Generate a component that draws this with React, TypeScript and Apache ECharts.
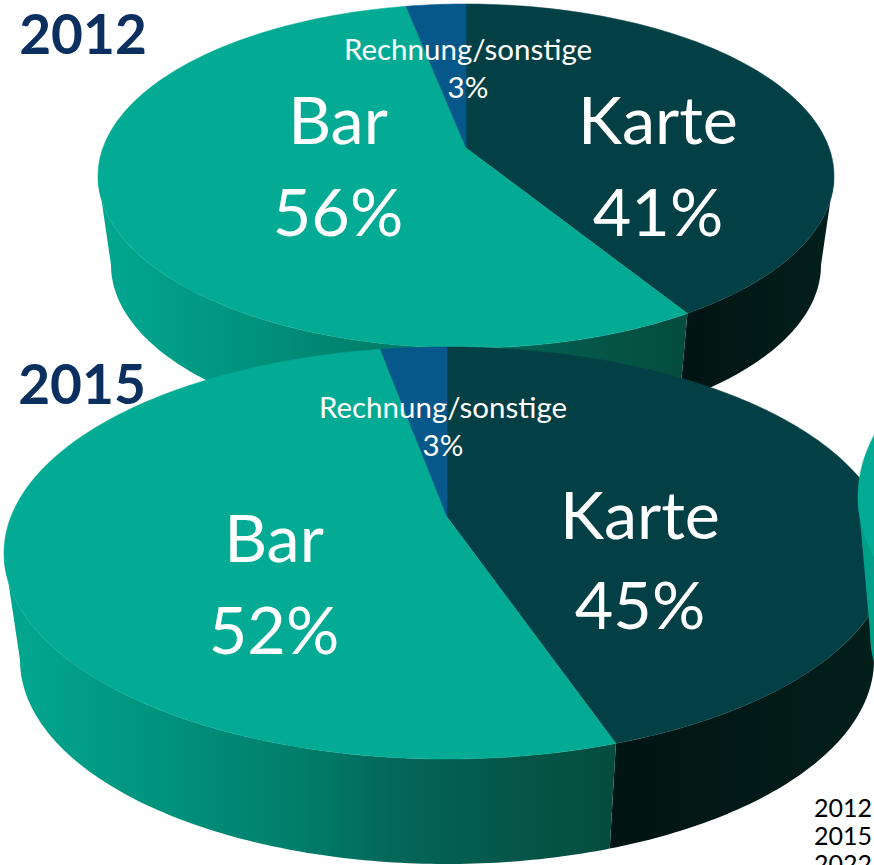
import React, { useEffect, useRef } from "react";
import * as echarts from "echarts";

const sliceNames = ["Karte", "Bar", "Rechnung/sonstige"];
const values2012 = [41, 56, 3];
const values2015 = [45, 52, 3];
const names2022 = ["Bar"];
const values2022 = [100];
const yearTitles = ["2012", "2015"];
const footNotes = ["2012", "2015", "2022"];

const FONT = "Lato, Carlito, 'Open Sans', sans-serif";
const TOP = ["#034045", "#03ab94", "#06578a"];
const SIDE: any[] = [
  [[0, "#011513"], [1, "#021f1b"]],
  [[0, "#02a890"], [0.25, "#00937e"], [0.49, "#017d6a"], [0.63, "#03685a"], [0.8, "#04594b"], [1, "#054c3e"]],
  [[0, "#005078"], [1, "#005078"]],
];
const SIDE_2022 = [[0, "#02a088"], [1, "#009880"]];

const PIE_2012 = {
  top: { cx: 466, cy: 176, rx: 368, ry: 172 }, bottom: { cx: 466, cy: 265, rx: 355, ry: 169 }, k: -0.163, warp: -0.14,
  labels: [
    { x: 658, y1: 118, y2: 210, size: 66.5 },
    { x: 338, y1: 118, y2: 210, size: 66.5 },
    { x: 468, y1: 48, y2: 86, size: 29.5 },
  ],
};
const PIE_2015 = {
  top: { cx: 447, cy: 553, rx: 443, ry: 206 }, bottom: { cx: 447, cy: 660, rx: 427, ry: 204 }, k: -0.175, warp: -0.22,
  labels: [
    { x: 640, y1: 513, y2: 603, size: 66.5 },
    { x: 274, y1: 536, y2: 628, size: 66.5 },
    { x: 443, y1: 406, y2: 444, size: 29.5 },
  ],
};
const PIE_2022 = {
  top: { cx: 1418, cy: 497, rx: 560, ry: 260 }, bottom: { cx: 1418, cy: 632, rx: 548, ry: 255 }, k: -0.17, warp: -0.17,
  sideStops: SIDE_2022,
  labels: [],
};

function discToImageAngle(a: number, k: number) {
  const u = Math.sin(a), v = -Math.cos(a);
  const d = 1 + k * v;
  const X = (u * Math.sqrt(1 - k * k)) / d;
  const Y = (v + k) / d;
  let t = Math.atan2(X, -Y);
  if (t < 0) t += Math.PI * 2;
  return t;
}
const pt = (e: any, t: number) => [e.cx + e.rx * Math.sin(t), e.cy - e.ry * Math.cos(t)];

function pieSeries(names: string[], values: number[], cfg: any, colorOffset = 0) {
  const total = values.reduce((s, v) => s + v, 0);
  const apex = [cfg.top.cx, cfg.top.cy + cfg.top.ry * cfg.k];
  return {
    type: "custom",
    coordinateSystem: "none",
    clip: false,
    silent: true,
    data: values.map((v, i) => ({ value: [v], name: names[i] })),
    renderItem: (params: any, api: any) => {
      const i = params.dataIndex;
      const before = values.slice(0, i).reduce((s, v) => s + v, 0);
      const val = api.value(0);
      const a0 = (before / total) * Math.PI * 2;
      const a1 = ((before + val) / total) * Math.PI * 2;
      const t0 = before === 0 ? 0 : discToImageAngle(a0, cfg.warp);
      const t1 = before + val === total ? Math.PI * 2 : discToImageAngle(a1, cfg.warp);
      const steps = Math.max(8, Math.ceil(((t1 - t0) * 180) / Math.PI));
      const arc: number[][] = [];
      for (let s = 0; s <= steps; s++) arc.push(pt(cfg.top, t0 + ((t1 - t0) * s) / steps));
      const c = i + colorOffset;
      const children: any[] = [];
      const s0 = Math.max(t0, Math.PI / 2), s1 = Math.min(t1, (Math.PI * 3) / 2);
      if (s1 > s0) {
        const sideTop: number[][] = [], sideBot: number[][] = [];
        const n = Math.ceil(((s1 - s0) * 180) / Math.PI) + 1;
        for (let s = 0; s <= n; s++) {
          const t = s0 + ((s1 - s0) * s) / n;
          sideTop.push(pt(cfg.top, t));
          sideBot.unshift(pt(cfg.bottom, t));
        }
        // the gradient runs across x, so the Bar wall goes from light at the left to dark at the right
        const stops = cfg.sideStops || SIDE[c];
        children.push({
          type: "polygon",
          shape: { points: sideTop.concat(sideBot) },
          style: {
            fill: new echarts.graphic.LinearGradient(0, 0, 1, 0,
              stops.map((x: any) => ({ offset: x[0], color: x[1] }))),
          },
        });
      }
      children.push({
        type: "polygon",
        shape: { points: val === total ? arc : [apex, ...arc] },
        style: { fill: TOP[c], stroke: TOP[c], lineWidth: 0.5 },
      });
      const l = cfg.labels[i];
      if (l) {
        const textOf = (text: string, y: number) => ({
          type: "text",
          style: {
            text, x: l.x, y, fill: "#ffffff", align: "center", verticalAlign: "middle",
            fontFamily: FONT, fontSize: l.size,
          },
        });
        children.push(textOf(names[i], l.y1), textOf(`${val}%`, l.y2));
      }
      return { type: "group", children };
    },
  };
}

export default function App() {
  const ref = useRef<HTMLDivElement>(null);
  useEffect(() => {
    document.body.style.margin = "0";
    const chart = echarts.init(ref.current!, null, { renderer: "svg" });
    chart.setOption({
      animation: false,
      backgroundColor: "#ffffff",
      series: [
        pieSeries(sliceNames, values2012, PIE_2012),
        pieSeries(sliceNames, values2015, PIE_2015),
        pieSeries(names2022, values2022, PIE_2022, 1),
      ],
      graphic: [
        ...yearTitles.map((t, i) => ({
          type: "text", z: 100, x: i ? 82 : 83, y: i ? 383 : 33,
          style: {
            text: t, fill: "#0b3060", align: "center", verticalAlign: "middle",
            fontFamily: FONT, fontSize: 55, fontWeight: 700,
          },
        })),
        ...footNotes.map((t, i) => ({
          type: "text", z: 100, x: 814, y: 807 + i * 28,
          style: {
            text: t, fill: "#000000", align: "left", verticalAlign: "middle",
            fontFamily: FONT, fontSize: 25,
          },
        })),
      ],
    });
    return () => chart.dispose();
  }, []);
  return <div ref={ref} style={{ width: 874, height: 865 }} />;
}
